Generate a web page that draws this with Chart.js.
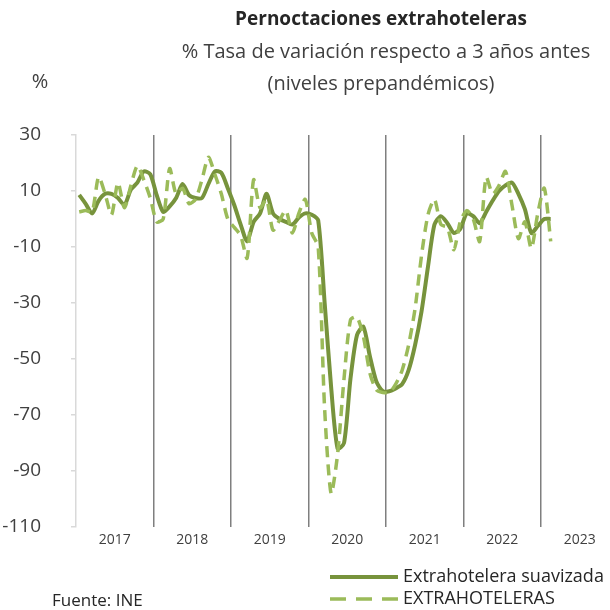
<!DOCTYPE html>
<html>
<head>
<meta charset="UTF-8" />
<style>
  html, body { margin: 0; padding: 0; background: #fff; }
  #wrap { width: 610px; height: 610px; }
</style>
</head>
<body>
<div id="wrap"><canvas id="myChart" width="610" height="610"></canvas></div>
<script src="https://cdn.jsdelivr.net/npm/chart.js@4.4.1/dist/chart.umd.min.js"></script>
<script>
// datos mensuales ene-2017 .. feb-2023, % sobre 3 años antes
const years = ["2017", "2018", "2019", "2020", "2021", "2022", "2023"];

const suavizada = [
  8.6, 5.4, 2, 6.5, 9, 9, 7.5, 5, 10.5, 13, 17, 16,          // 2017
  8.5, 2.5, 4.5, 7.5, 12.5, 8.5, 7.5, 7.5, 12.5, 17, 16.5, 11, // 2018
  5, -2, -8, -1, 2, 9, 2, 0, -1, -2, 0.5, 2,                  // 2019
  1.5, -0.5, -30, -60, -82, -80, -57, -41.5, -38.5, -49, -58, -61.5, // 2020
  -61.5, -60.5, -59, -54, -45, -33, -17, -2, 1, -1.5, -5, -3.5,      // 2021
  2, 1, -1.5, 2.5, 6.5, 10, 12, 13, 9, 3.5, -5, -2.5,         // 2022
  0, 0                                                        // 2023
];

const extrahoteleras = [
  2.5, 3, 2.5, 15, 9, 1.5, 13, 4, 12, 19, 14, 7.5,
  -1, 0, 18, 9, 11, 5.5, 7, 14, 22, 16, 9, 0,
  -3, -6, -14, 14, 4, 7, -4, -0.5, 3, -5, 2, 7,
  -5, -10, -68, -98, -84, -57, -36, -35, -42, -55, -61, -62,
  -62, -59, -54, -45, -32, -13, 1.5, 7, -2, -3, -11, -1,
  3, 0, -8, 15, 9, 12, 17, 5, -7, -1, -10.5, 2,
  11, -8
];

const yTicks = [30, 10, -10, -30, -50, -70, -90, -110];

const FONT = "'Open Sans', 'Liberation Sans', sans-serif";
const monthsShown = 82.68;   // el eje se corta en el borde derecho (2023 incompleto)

function toPoints(arr) {
  return arr.map(function (v, i) { return { x: i + 0.5, y: v }; });
}

const textos = {
  id: "textos",
  afterDraw: function (chart) {
    const ctx = chart.ctx;
    ctx.save();
    ctx.textBaseline = "middle";
    ctx.textAlign = "center";
    ctx.fillStyle = "#262626";
    ctx.font = "bold 19px " + FONT;
    ctx.fillText("Pernoctaciones extrahoteleras", 381, 20);
    ctx.font = "20px " + FONT;
    ctx.fillStyle = "#404040";
    ctx.fillText("% Tasa de variación respecto a 3 años antes", 386, 52);
    ctx.fillText("(niveles prepandémicos)", 381, 84);
    ctx.fillText("%", 40, 82);

    // leyenda
    ctx.textAlign = "left";
    ctx.font = "18px " + FONT;
    const ys = [577, 599];
    chart.data.datasets.forEach(function (ds, k) {
      const y = ys[k];
      ctx.save();
      ctx.strokeStyle = ds.borderColor;
      ctx.lineWidth = ds.borderWidth;
      ctx.setLineDash(ds.borderDash ? [16, 10] : []);
      ctx.beginPath();
      ctx.moveTo(330, y);
      ctx.lineTo(398, y);
      ctx.stroke();
      ctx.restore();
      ctx.fillStyle = "#262626";
      ctx.fillText(ds.label, 403, y);
    });

    ctx.font = "17px " + FONT;
    ctx.fillStyle = "#262626";
    ctx.fillText("Fuente: INE", 52, 601);
    ctx.restore();
  }
};

const data = {
  datasets: [
    {
      label: "Extrahotelera suavizada",
      data: toPoints(suavizada),
      borderColor: "#77933c",
      backgroundColor: "#77933c",
      borderWidth: 4,
      pointRadius: 0,
      tension: 0.25,
      order: 2
    },
    {
      label: "EXTRAHOTELERAS",
      data: toPoints(extrahoteleras),
      borderColor: "#9bbb59",
      backgroundColor: "#9bbb59",
      borderWidth: 3.5,
      borderDash: [11, 7],
      pointRadius: 0,
      tension: 0.25,
      order: 1
    }
  ]
};

const config = {
  type: "line",
  data: data,
  plugins: [textos],
  options: {
    responsive: false,
    animation: false,
    layout: { padding: { top: 135, bottom: 63, left: 0, right: 0 } },
    plugins: {
      legend: { display: false },
      title: { display: false },
      tooltip: { enabled: false }
    },
    scales: {
      x: {
        type: "linear",
        min: 0,
        max: monthsShown,
        afterBuildTicks: function (scale) {
          scale.ticks = years.map(function (y, k) { return { value: k * 12 }; });
        },
        afterFit: function (scale) { scale.height = 20; },
        ticks: {
          autoSkip: false,
          maxRotation: 0,
          labelOffset: 38.75,
          padding: 5,
          color: "#404040",
          font: { family: FONT, size: 14 },
          callback: function (value) { return years[Math.round(value / 12)]; }
        },
        grid: {
          drawTicks: false,
          lineWidth: 1.5,
          color: function (c) {
            return c.tick && c.tick.value === 0 ? "rgba(0,0,0,0)" : "#7f7f7f";
          }
        },
        border: { display: false }
      },
      y: {
        min: -110,
        max: 30,
        afterBuildTicks: function (scale) {
          scale.ticks = yTicks.map(function (v) { return { value: v }; });
        },
        afterFit: function (scale) { scale.width = 76; },
        ticks: {
          padding: 30,
          color: "#404040",
          font: { family: FONT, size: 19 }
        },
        grid: {
          lineWidth: 1.5,
          tickLength: 5,
          tickColor: "#d9d9d9",
          color: function (c) {
            return c.tick && c.tick.value === 0 ? "#d9d9d9" : "rgba(0,0,0,0)";
          }
        },
        border: { color: "#d9d9d9", width: 1.5 }
      }
    }
  }
};

var myChart = new Chart(document.getElementById("myChart"), config);
</script>
</body>
</html>
